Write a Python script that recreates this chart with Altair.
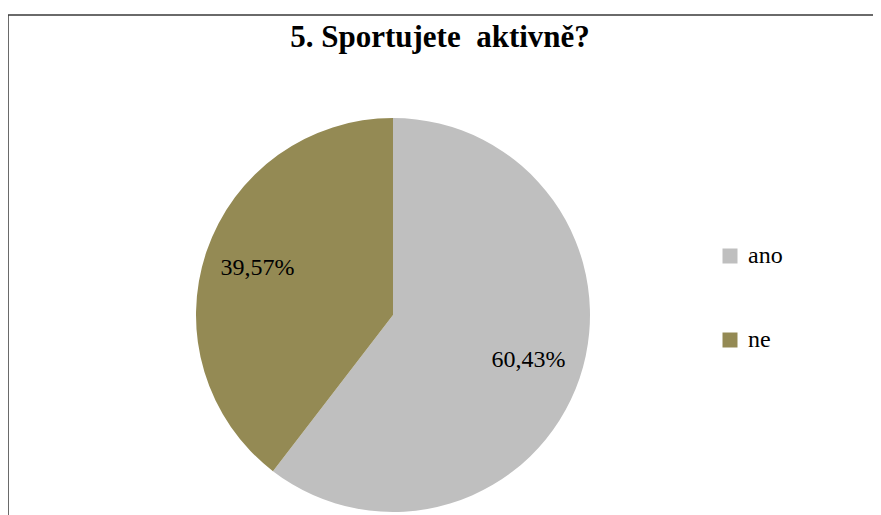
import altair as alt
import pandas as pd

title_text = ["5. Sportujete\u00a0 aktivně?"]
categories = ["ano", "ne"]
values = [60.43, 39.57]
labels = ["60,43%", "39,57%"]
colors = ["#BFBFBF", "#948A54"]

df = pd.DataFrame({"cat": categories, "val": values, "lab": labels, "ord": [0, 1]})
tdf = pd.DataFrame({"t": title_text})

base = alt.Chart(df).encode(
    theta=alt.Theta("val:Q", stack=True),
    order=alt.Order("ord:Q"),
)

pie = base.mark_arc(radius=197).encode(
    x=alt.value(385),
    y=alt.value(300),
    color=alt.Color(
        "cat:N",
        scale=alt.Scale(domain=categories, range=colors),
        legend=alt.Legend(
            title=None,
            orient="none",
            legendX=710,
            legendY=229,
            symbolType="square",
            symbolSize=225,
            symbolStrokeWidth=0,
            labelFont="Liberation Serif",
            labelFontSize=24,
            labelColor="#000000",
            rowPadding=60,
            labelOffset=6,
        ),
    ),
)

text = base.mark_text(
    radius=143, font="Liberation Serif", fontSize=24, color="#000000"
).encode(x=alt.value(385), y=alt.value(299), text="lab:N")

title = alt.Chart(tdf).mark_text(
    font="Liberation Serif",
    fontSize=31,
    fontWeight="bold",
    color="#000000",
    align="center",
    baseline="alphabetic",
).encode(x=alt.value(432), y=alt.value(32), text="t:N")

chart = (
    alt.layer(pie, text, title)
    .properties(
        width=873,
        height=520,
        padding={"left": 0, "top": 7, "right": -8, "bottom": -20},
        autosize=alt.AutoSizeParams(type="none"),
    )
    .configure_view(stroke="#3a3a3a", strokeWidth=1.5)
)

chart.save("out.html", embed_options={"renderer": "svg", "actions": False})
